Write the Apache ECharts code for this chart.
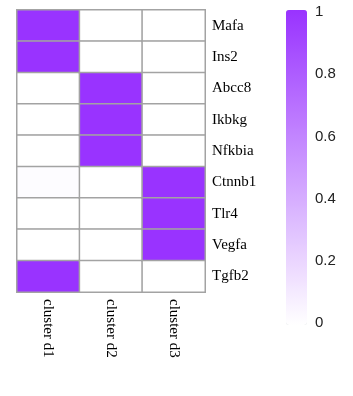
<!DOCTYPE html>
<html>
<head>
<meta charset="utf-8">
<script src="https://cdn.jsdelivr.net/npm/echarts@6/dist/echarts.min.js"></script>
<style>
  html, body { margin: 0; padding: 0; background: #fff; }
  #chart { width: 353px; height: 396px; }
</style>
</head>
<body>
<div id="chart"></div>
<script>
// 列（聚类）与行（基因）
var clusters = ['cluster d1', 'cluster d2', 'cluster d3'];
var genes = ['Mafa', 'Ins2', 'Abcc8', 'Ikbkg', 'Nfkbia', 'Ctnnb1', 'Tlr4', 'Vegfa', 'Tgfb2'];
// 每个基因在三个聚类中的取值
var d1Values = [1, 1, 0, 0, 0, 0.015, 0, 0, 1];
var d2Values = [0, 0, 1, 1, 1, 0, 0, 0, 0];
var d3Values = [0, 0, 0, 0, 0, 1, 1, 1, 0];
var colorbarTicks = [0, 0.2, 0.4, 0.6, 0.8, 1];

var columns = [d1Values, d2Values, d3Values];
var heatData = [];
columns.forEach(function (col, ci) {
    col.forEach(function (v, gi) {
        heatData.push([ci, gi, v]);
    });
});

var chart = echarts.init(document.getElementById('chart'));
var option = {
    animation: false,
    grid: [
        { left: 17, top: 10, width: 188, height: 282 },
        // 色条刻度用的坐标系
        { left: 286, top: 12, width: 21, height: 311 }
    ],
    xAxis: [
        {
            type: 'category', data: clusters, gridIndex: 0,
            axisLine: { show: false }, axisTick: { show: false }, splitLine: { show: false },
            axisLabel: {
                rotate: -90, margin: 7, color: '#000', fontSize: 15,
                fontFamily: 'Liberation Serif'
            }
        },
        { type: 'category', data: [''], gridIndex: 1, show: false }
    ],
    yAxis: [
        {
            type: 'category', data: genes, gridIndex: 0, inverse: true, position: 'right',
            axisLine: { show: false }, axisTick: { show: false }, splitLine: { show: false },
            axisLabel: { margin: 7, color: '#000', fontSize: 15, fontFamily: 'Liberation Serif' }
        },
        {
            type: 'value', gridIndex: 1, min: 0, max: 1, interval: 0.2, position: 'right',
            axisLine: { show: false }, axisTick: { show: false }, splitLine: { show: false },
            axisLabel: {
                margin: 8, color: '#222', fontSize: 15, fontFamily: 'Liberation Sans',
                formatter: function (v) {
                    var r = Math.round(v * 10) / 10;
                    return colorbarTicks.indexOf(r) >= 0 ? String(r) : '';
                }
            }
        }
    ],
    visualMap: {
        type: 'continuous', min: 0, max: 1, seriesIndex: 0,
        left: 286, top: 10, itemWidth: 21, itemHeight: 315, padding: 0,
        calculable: false, text: null, showLabel: false,
        inRange: { color: ['#ffffff', '#9933ff'] }
    },
    series: [
        {
            type: 'heatmap', xAxisIndex: 0, yAxisIndex: 0, data: heatData,
            itemStyle: { borderColor: '#a3a3a3', borderWidth: 1.5 },
            emphasis: { disabled: true }
        },
        { type: 'scatter', xAxisIndex: 1, yAxisIndex: 1, data: [], silent: true }
    ]
};
chart.setOption(option);
</script>
</body>
</html>
